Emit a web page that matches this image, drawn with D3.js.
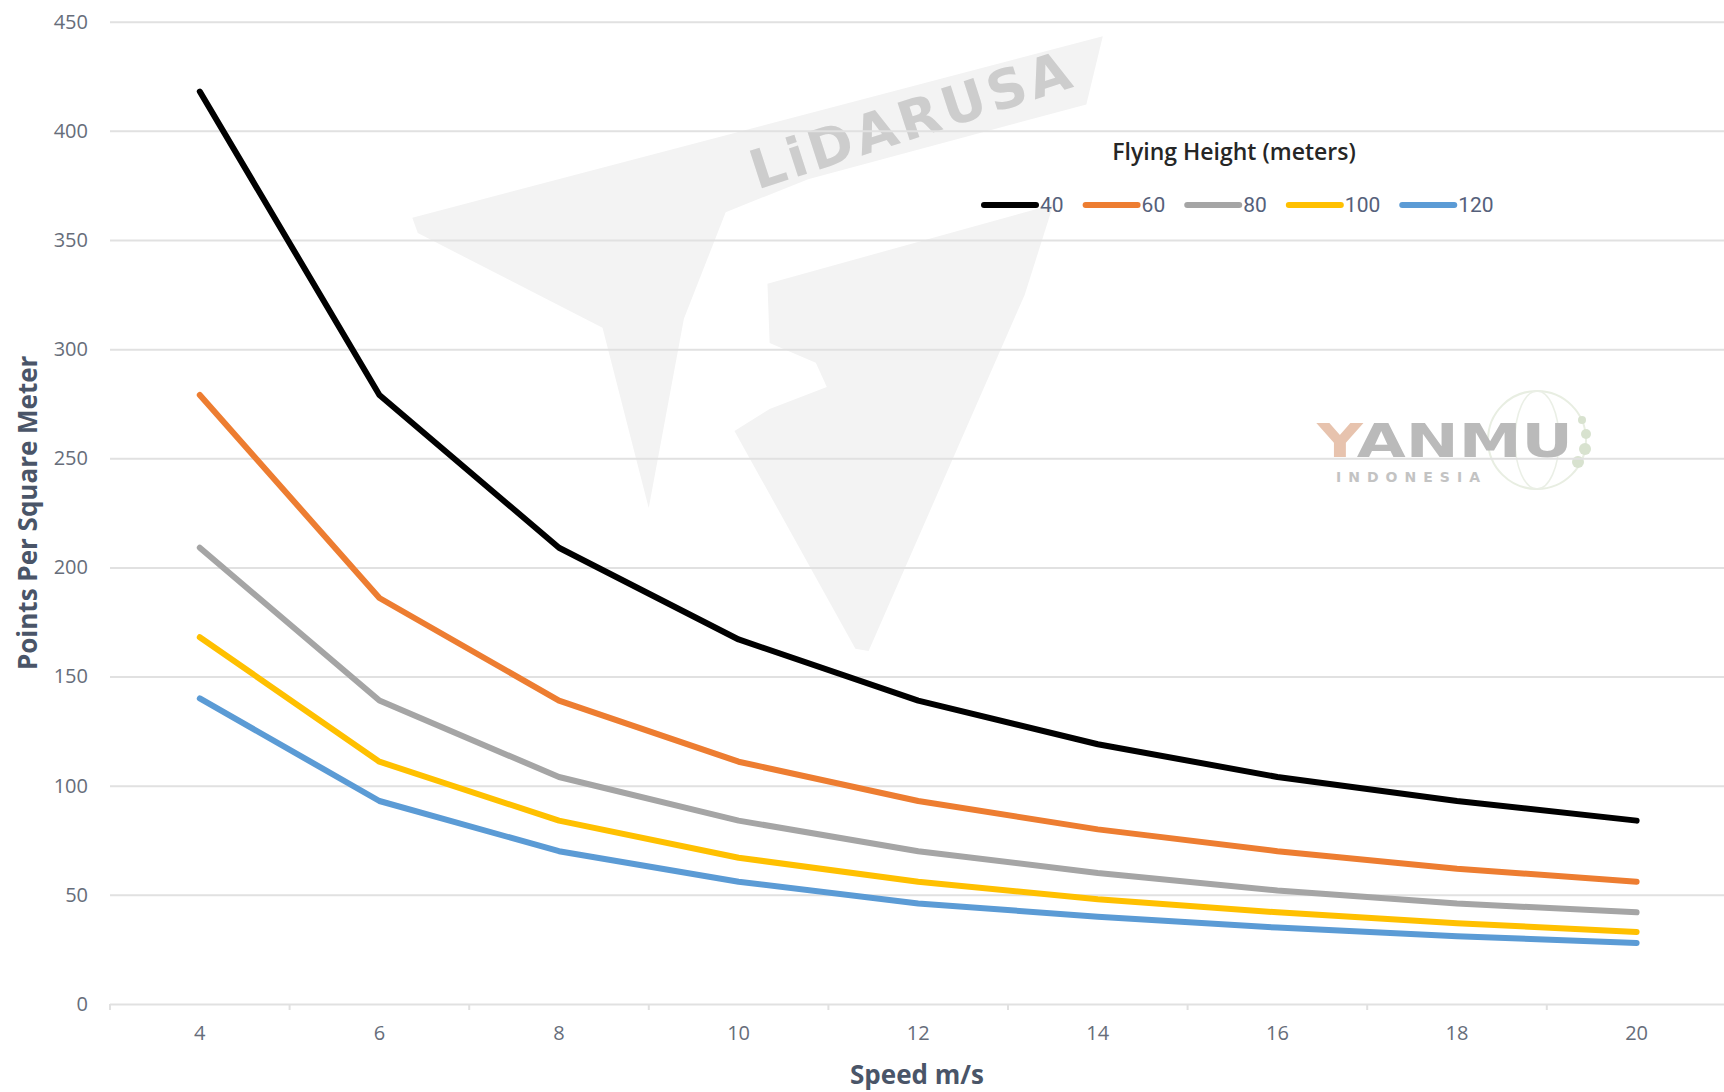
<!DOCTYPE html>
<html>
<head>
<meta charset="utf-8">
<script src="https://cdn.jsdelivr.net/npm/d3@7"></script>
<style>
  html, body { margin: 0; padding: 0; background: #fff; }
  svg { display: block; }
</style>
</head>
<body>
<svg id="chart"></svg>
<script>
// data
const speeds = [4, 6, 8, 10, 12, 14, 16, 18, 20];
const heights = ["40", "60", "80", "100", "120"];
const h40  = [418, 279, 209, 167, 139, 119, 104, 93, 84];
const h60  = [279, 186, 139, 111, 93, 80, 70, 62, 56];
const h80  = [209, 139, 104, 84, 70, 60, 52, 46, 42];
const h100 = [168, 111, 84, 67, 56, 48, 42, 37, 33];
const h120 = [140, 93, 70, 56, 46, 40, 35, 31, 28];
const yTicks = [0, 50, 100, 150, 200, 250, 300, 350, 400, 450];
const colors = ["#000000", "#ED7D31", "#A5A5A5", "#FFC000", "#5B9BD5"];

const series = [h40, h60, h80, h100, h120].map((vals, i) => ({
    name: heights[i],
    color: colors[i],
    values: vals.map((v, j) => ({ speed: speeds[j], value: v }))
}));

const width = 1724, height = 1092;
const svg = d3.select("#chart").attr("width", width).attr("height", height);

// plot area
const plotLeft = 110, plotTop = 21.7, plotBottom = 1004, step = 179.6;

const x = d3.scaleBand()
    .domain(speeds)
    .range([plotLeft, plotLeft + step * speeds.length]);

const y = d3.scaleLinear()
    .domain([0, 450])
    .range([plotBottom, plotTop]);

// watermark: LiDARUSA logo (faint shapes + text)
const wm = svg.append("g").attr("transform", "scale(1.0995)").attr("fill", "#f3f3f3");
wm.append("path").attr("d",
    "M375,198 L1003,33 L988,95 L735,163 L660,193 L622,290 L590,462 L548,298 L380,212 Z");
wm.append("path").attr("d",
    "M698,258 L958,186 L932,268 L790,592 L778,590 L668,392 L700,372 L752,352 L742,330 L700,312 Z");

svg.append("text")
    .attr("transform", "translate(912,120) rotate(-18)")
    .attr("text-anchor", "middle")
    .attr("dominant-baseline", "central")
    .attr("font-family", "'DejaVu Sans', sans-serif")
    .attr("font-weight", "bold")
    .attr("font-size", 54)
    .attr("letter-spacing", 4)
    .attr("fill", "#cdcdcd")
    .text("LiDARUSA");

// watermark: YANMU logo
const ym = svg.append("g").attr("opacity", 0.8);
ym.append("circle").attr("cx", 1537).attr("cy", 440).attr("r", 49)
    .attr("fill", "none").attr("stroke", "#e3eadb").attr("stroke-width", 2);
ym.append("ellipse").attr("cx", 1537).attr("cy", 440).attr("rx", 22).attr("ry", 49)
    .attr("fill", "none").attr("stroke", "#e6ece0").attr("stroke-width", 1.5);
[[1582, 420, 4], [1586, 434, 5], [1585, 449, 6], [1578, 462, 6]].forEach(d => {
    ym.append("circle").attr("cx", d[0]).attr("cy", d[1]).attr("r", d[2]).attr("fill", "#cfdcc4");
});
const yanmu = ym.append("text")
    .attr("x", 1317).attr("y", 457)
    .attr("font-family", "'DejaVu Sans', sans-serif")
    .attr("font-weight", "bold")
    .attr("font-size", 46)
    .attr("textLength", 256)
    .attr("lengthAdjust", "spacingAndGlyphs")
    .attr("fill", "#a9a9a9");
yanmu.append("tspan").attr("fill", "#e2b59a").text("Y");
yanmu.append("tspan").text("ANMU");
ym.append("text")
    .attr("x", 1336).attr("y", 482)
    .attr("font-family", "'DejaVu Sans', sans-serif")
    .attr("font-weight", "bold")
    .attr("font-size", 14)
    .attr("textLength", 144)
    .attr("fill", "#b5b5b5")
    .text("INDONESIA");

// gridlines + y axis
const yAxis = svg.append("g")
    .attr("transform", `translate(${plotLeft},0)`)
    .call(d3.axisLeft(y).tickValues(yTicks).tickSize(-(width - plotLeft)).tickPadding(22));
yAxis.select(".domain").remove();
yAxis.selectAll(".tick line").attr("stroke", "#e1e1e1").attr("stroke-width", 2);
yAxis.selectAll(".tick text")
    .attr("font-family", "'Open Sans', sans-serif")
    .attr("font-size", 20)
    .attr("fill", "#666d7a");

// x axis
const xAxis = svg.append("g")
    .attr("transform", `translate(0,${plotBottom})`)
    .call(d3.axisBottom(x).tickSize(0).tickPadding(22));
xAxis.select(".domain").remove();
xAxis.selectAll(".tick text")
    .attr("font-family", "'Open Sans', sans-serif")
    .attr("font-size", 20)
    .attr("fill", "#666d7a");

// small tick marks at category boundaries
svg.append("g").selectAll("line")
    .data(d3.range(speeds.length + 1))
    .enter()
    .append("line")
    .attr("x1", i => x.range()[0] + i * x.step())
    .attr("x2", i => x.range()[0] + i * x.step())
    .attr("y1", plotBottom)
    .attr("y2", plotBottom + 6)
    .attr("stroke", "#e1e1e1")
    .attr("stroke-width", 2);

// lines
const line = d3.line()
    .x(d => x(d.speed) + x.bandwidth() / 2)
    .y(d => y(d.value));

svg.append("g").selectAll("path")
    .data(series)
    .enter()
    .append("path")
    .attr("d", d => line(d.values))
    .attr("fill", "none")
    .attr("stroke", d => d.color)
    .attr("stroke-width", 6)
    .attr("stroke-linejoin", "round")
    .attr("stroke-linecap", "round");

// axis titles
svg.append("text")
    .attr("x", plotLeft + (width - plotLeft) / 2)
    .attr("y", 1084)
    .attr("text-anchor", "middle")
    .attr("font-family", "'Open Sans', sans-serif")
    .attr("font-weight", "bold")
    .attr("font-size", 26)
    .attr("fill", "#4a5568")
    .text("Speed m/s");

svg.append("text")
    .attr("transform", `translate(37,${(plotTop + plotBottom) / 2}) rotate(-90)`)
    .attr("text-anchor", "middle")
    .attr("font-family", "'Open Sans', sans-serif")
    .attr("font-weight", "bold")
    .attr("font-size", 26)
    .attr("fill", "#4a5568")
    .text("Points Per Square Meter");

// legend
svg.append("text")
    .attr("x", 1234)
    .attr("y", 160)
    .attr("text-anchor", "middle")
    .attr("font-family", "'Open Sans', sans-serif")
    .attr("font-weight", 600)
    .attr("font-size", 23)
    .attr("fill", "#262626")
    .text("Flying Height (meters)");

let lx = 984;
const ly = 205;
series.forEach(s => {
    const g = svg.append("g");
    g.append("line")
        .attr("x1", lx).attr("x2", lx + 52)
        .attr("y1", ly).attr("y2", ly)
        .attr("stroke", s.color)
        .attr("stroke-width", 6)
        .attr("stroke-linecap", "round");
    const t = g.append("text")
        .attr("x", lx + 56)
        .attr("y", ly)
        .attr("dominant-baseline", "central")
        .attr("font-family", "'Liberation Sans Narrow', 'Roboto', sans-serif")
        .attr("font-size", 21)
        .attr("fill", "#55607a")
        .text(s.name);
    lx += 56 + t.node().getComputedTextLength() + 22;
});
</script>
</body>
</html>
